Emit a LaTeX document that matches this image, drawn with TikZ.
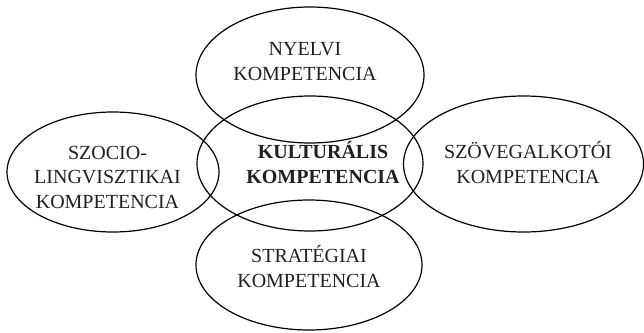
\documentclass[tikz,border=0pt]{standalone}
\usepackage{fontspec}
\setmainfont{Liberation Serif}
\usetikzlibrary{shapes.geometric}
\definecolor{ink}{RGB}{35,31,32}
\begin{document}
\begin{tikzpicture}[x=1pt,y=-1pt,
  ring/.style={draw=black, line width=1.2pt, ellipse, inner sep=0pt, outer sep=0pt},
  txt/.style={font=\fontsize{20}{24.5}\selectfont, text=ink, align=center, inner sep=0pt, anchor=base}]
\useasboundingbox (0,0) rectangle (644,332);

% the five competence areas
\node[ring, minimum width=228pt, minimum height=136pt] (nyelvi)  at (310,75)    {};
\node[ring, minimum width=226pt, minimum height=135pt] (kult)    at (310,163.5) {};
\node[ring, minimum width=212pt, minimum height=120pt] (szocio)  at (113,172)   {};
\node[ring, minimum width=240pt, minimum height=136pt] (szoveg)  at (523.5,164) {};
\node[ring, minimum width=226pt, minimum height=130pt] (strat)   at (309,265)   {};

% their names (anchored on the baseline of the last line)
\node[txt] (tnyelvi) at (305,80)    {NYELVI\\KOMPETENCIA};
\node[txt, font=\fontsize{20}{25}\selectfont\bfseries] (tkult) at (323,183) {KULTURÁLIS\\KOMPETENCIA};
\node[txt] (tszocio) at (107.5,208) {SZOCIO-\\LINGVISZTIKAI\\KOMPETENCIA};
\node[txt] (tszoveg) at (528,183)   {SZÖVEGALKOTÓI\\KOMPETENCIA};
\node[txt] (tstrat)  at (309,287)   {STRATÉGIAI\\KOMPETENCIA};
\end{tikzpicture}
\end{document}
